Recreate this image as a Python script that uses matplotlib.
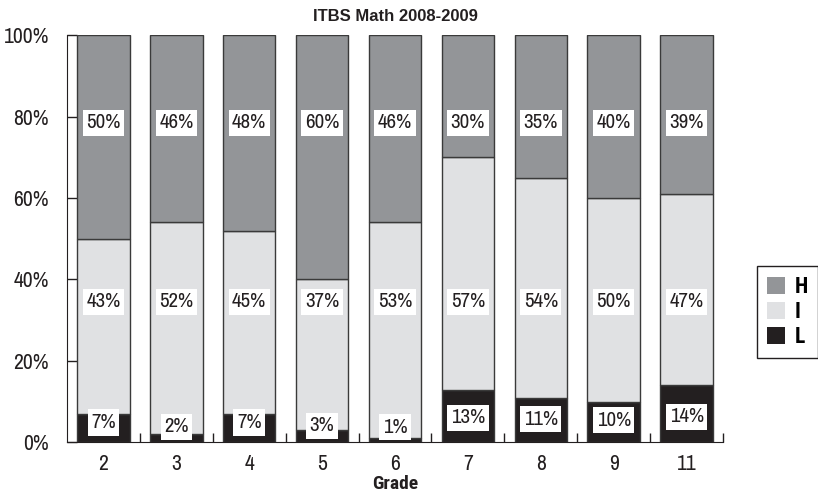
import numpy as np
import matplotlib
matplotlib.use("Agg")
import matplotlib.pyplot as plt
from matplotlib.ticker import FixedLocator, PercentFormatter

# =================================================================
# DATA
# =================================================================
grades = ["2", "3", "4", "5", "6", "7", "8", "9", "11"]
low = [7, 2, 7, 3, 1, 13, 11, 10, 14]
inter = [43, 52, 45, 37, 53, 57, 54, 50, 47]
high = [50, 46, 48, 60, 46, 30, 35, 40, 39]

C_H = "#939598"
C_I = "#e0e1e3"
C_L = "#231f20"
EDGE = "#3a3a3a"
INK = "#231f20"

# narrow grotesque, close to the Helvetica Narrow of the original
plt.rcParams['font.family'] = ['Archivo Narrow', 'DejaVu Sans']
BOLD_NARROW = ['Roboto Condensed', 'DejaVu Sans']

fig = plt.figure(figsize=(8.18, 4.96), dpi=100)
ax = fig.add_axes([0.0819, 0.1079, 0.8020, 0.8215])

x = np.arange(len(grades))
low_a = np.array(low)
inter_a = np.array(inter)
high_a = np.array(high)

w = 0.72
ax.bar(x, low_a, w, color=C_L, edgecolor=EDGE, linewidth=1, label="L", zorder=2)
ax.bar(x, inter_a, w, bottom=low_a, color=C_I, edgecolor=EDGE, linewidth=1, label="I", zorder=2)
ax.bar(x, high_a, w, bottom=low_a + inter_a, color=C_H, edgecolor=EDGE, linewidth=1, label="H", zorder=2)

# value labels in white boxes
box = dict(boxstyle="square,pad=0.17", facecolor="white", edgecolor="none")
for i in range(len(grades)):
    ax.text(x[i], 78.5, f"{high[i]}%", ha="center", va="center", fontsize=15,
            color=INK, bbox=box, zorder=3)
    ax.text(x[i], 34.5, f"{inter[i]}%", ha="center", va="center", fontsize=15,
            color=INK, bbox=box, zorder=3)
    ax.text(x[i], 3.5 + 0.2 * low[i], f"{low[i]}%", ha="center", va="center", fontsize=15,
            color=INK, bbox=box, zorder=3)

ax.set_xlim(-0.5, len(grades) - 0.5)
ax.set_ylim(0, 100)

ax.set_yticks([0, 20, 40, 60, 80, 100])
ax.yaxis.set_major_formatter(PercentFormatter(decimals=0))
ax.tick_params(axis="y", direction="in", length=7, width=1, pad=13, labelsize=15.5, colors=INK)

ax.set_xticks(x)
ax.set_xticklabels(grades)
ax.tick_params(axis="x", which="major", length=0, pad=8, labelsize=15.5, colors=INK)
ax.xaxis.set_minor_locator(FixedLocator(np.arange(0.5, len(grades), 1.0)))
ax.tick_params(axis="x", which="minor", direction="in", length=6.5, width=1, color=INK)

for s in ["top", "right"]:
    ax.spines[s].set_visible(False)
ax.spines["left"].set_color(INK)
ax.spines["bottom"].set_color(INK)

ax.set_title("ITBS Math 2008-2009", fontsize=12, fontweight="bold", pad=10, color=INK,
             family=['Liberation Sans', 'DejaVu Sans'])
ax.set_xlabel("Grade", fontsize=14, fontweight="bold", labelpad=1, color=INK,
              family=BOLD_NARROW)

handles, labels = ax.get_legend_handles_labels()
leg = fig.legend(handles[::-1], labels[::-1], loc="upper left",
                 bbox_to_anchor=(0.9254, 0.4637), bbox_transform=fig.transFigure,
                 borderaxespad=0, fancybox=False, edgecolor=INK, framealpha=1,
                 handlelength=0.85, handleheight=0.85, handletextpad=0.45,
                 labelspacing=0.15, borderpad=0.45,
                 prop={'weight': 'bold', 'size': 15.5, 'family': BOLD_NARROW})
for h in leg.legend_handles:
    h.set_edgecolor("none")
leg.get_frame().set_linewidth(1)

fig.savefig("out.png", dpi=100)
